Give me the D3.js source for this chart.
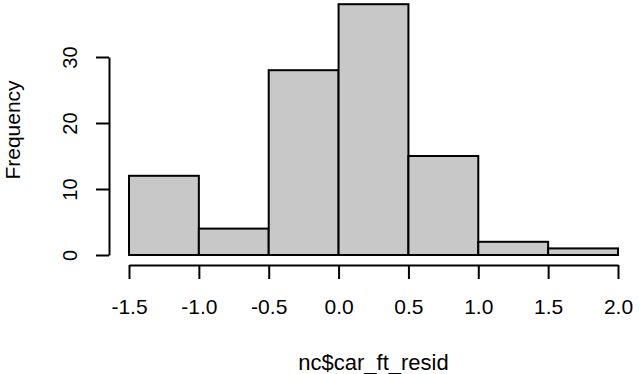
<!DOCTYPE html>
<html>
<head>
<meta charset="utf-8">
<script src="https://cdn.jsdelivr.net/npm/d3@7"></script>
<style>
  body { margin: 0; background: #fff; }
  svg { display: block; font-family: "Liberation Sans", Arial, Helvetica, sans-serif; }
</style>
</head>
<body>
<div id="chart"></div>
<script>
// Histogram bins of nc$car_ft_resid
const binStarts = [-1.5, -1.0, -0.5, 0.0, 0.5, 1.0, 1.5];
const binEnds   = [-1.0, -0.5, 0.0, 0.5, 1.0, 1.5, 2.0];
const counts    = [12, 4, 28, 38, 15, 2, 1];
const xTicks    = [-1.5, -1.0, -0.5, 0.0, 0.5, 1.0, 1.5, 2.0];
const yTicks    = [0, 10, 20, 30];

const width = 641, height = 374;

const svg = d3.select("#chart").append("svg")
    .attr("width", width)
    .attr("height", height);

// Scales (fitted to the reference plot area)
const x = d3.scaleLinear().domain([-1.5, 2.0]).range([129, 618]);
const y = d3.scaleLinear().domain([0, 30]).range([255, 57]);

// Bars
const bins = binStarts.map((s, i) => ({ x0: s, x1: binEnds[i], n: counts[i] }));

svg.append("g")
  .selectAll("rect")
  .data(bins)
  .join("rect")
    .attr("x", d => x(d.x0))
    .attr("y", d => y(d.n))
    .attr("width", d => x(d.x1) - x(d.x0))
    .attr("height", d => y(0) - y(d.n))
    .attr("fill", "#c8c8c8")
    .attr("stroke", "#000")
    .attr("stroke-width", 2);

// X axis
const xAxis = svg.append("g")
    .attr("transform", "translate(0,265)")
    .call(d3.axisBottom(x)
        .tickValues(xTicks)
        .tickFormat(d3.format(".1f"))
        .tickSize(14)
        .tickSizeOuter(0)
        .tickPadding(20));

xAxis.select(".domain").attr("stroke", "#000").attr("stroke-width", 2);
xAxis.selectAll(".tick line").attr("stroke", "#000").attr("stroke-width", 2);
xAxis.selectAll(".tick text")
    .attr("fill", "#000")
    .attr("font-size", "21px")
    .attr("font-family", "Liberation Sans, Arial, sans-serif")
    .text(d => d3.format(".1f")(d).replace("−", "-"));

// Y axis
const yAxis = svg.append("g")
    .attr("transform", "translate(109,0)")
    .call(d3.axisLeft(y)
        .tickValues(yTicks)
        .tickSize(13)
        .tickSizeOuter(0)
        .tickPadding(0));

yAxis.select(".domain").attr("stroke", "#000").attr("stroke-width", 2);
yAxis.selectAll(".tick line").attr("stroke", "#000").attr("stroke-width", 2);
yAxis.selectAll(".tick text")
    .attr("fill", "#000")
    .attr("font-size", "20px")
    .attr("font-family", "Liberation Sans, Arial, sans-serif")
    .attr("x", null)
    .attr("dy", null)
    .attr("text-anchor", "middle")
    .attr("transform", "translate(-32,0) rotate(-90)");

// Axis titles
svg.append("text")
    .attr("x", 373.5)
    .attr("y", 370)
    .attr("text-anchor", "middle")
    .attr("font-size", "22px")
    .attr("fill", "#000")
    .text("nc$car_ft_resid");

svg.append("text")
    .attr("transform", "translate(20,130) rotate(-90)")
    .attr("text-anchor", "middle")
    .attr("font-size", "21px")
    .attr("fill", "#000")
    .text("Frequency");
</script>
</body>
</html>
